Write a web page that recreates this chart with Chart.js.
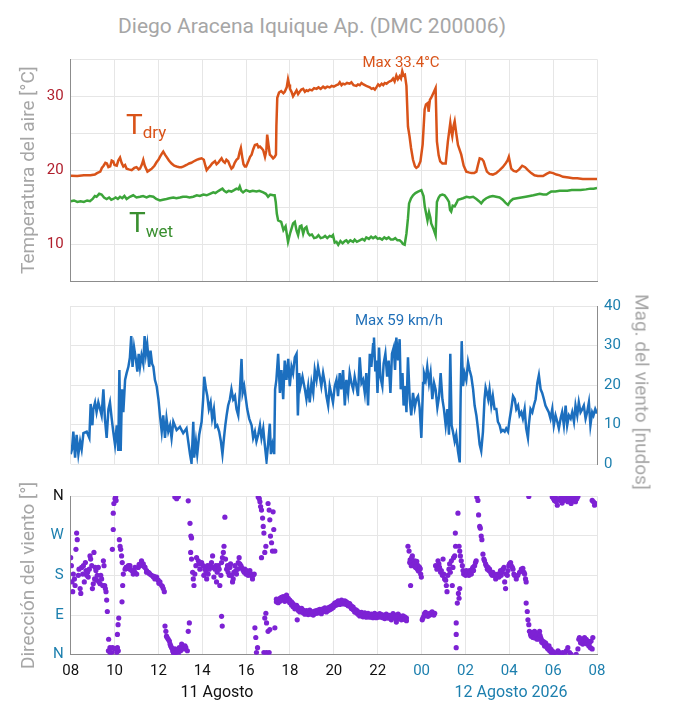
<!DOCTYPE html>
<html>
<head>
<meta charset="utf-8">
<script src="https://cdn.jsdelivr.net/npm/chart.js@4.4.1/dist/chart.umd.min.js"></script>
<style>
  html, body { margin: 0; padding: 0; background: #fff; }
  #page { position: relative; width: 673px; height: 722px; overflow: hidden; font-family: Roboto, "DejaVu Sans", sans-serif; }
  #page canvas { position: absolute; left: 0; }
  .lbl { position: absolute; white-space: nowrap; line-height: 1; }
  .mid { transform: translate(-50%, -50%); }
</style>
</head>
<body>
<div id="page">
  <div class="lbl mid" style="left:312px;top:26px;font-size:21px;color:#a6a6a6">Diego Aracena Iquique Ap. (DMC 200006)</div>
  <canvas id="tempChart" width="673" height="260" style="top:40px"></canvas>
  <canvas id="windChart" width="673" height="190" style="top:290px"></canvas>
  <canvas id="dirChart" width="673" height="242" style="top:480px"></canvas>
  <div class="lbl mid" style="left:401px;top:62px;font-size:15px;color:#d95319">Max 33.4°C</div>
  <div class="lbl" style="left:126px;top:111px;font-size:28px;color:#d95319">T<span style="font-size:17px;position:relative;top:4px">dry</span></div>
  <div class="lbl" style="left:129px;top:209px;font-size:28px;color:#3a8f30">T<span style="font-size:17px;position:relative;top:5px">wet</span></div>
  <div class="lbl mid" style="left:399px;top:320px;font-size:15px;color:#1f6fb8">Max 59 km/h</div>
  <div class="lbl" style="left:642px;top:392px;font-size:19px;color:#a6a6a6;transform:translate(-50%,-50%) rotate(90deg)">Mag. del viento [nudos]</div>
  <div class="lbl mid" style="left:217px;top:692px;font-size:16px;color:#111">11 Agosto</div>
  <div class="lbl mid" style="left:511px;top:692px;font-size:16px;color:#1c7fae">12 Agosto 2026</div>
</div>
<script>
// hours since 08:00 on 11 Aug; dry and wet bulb temperature [°C]
const tdryHours = [
  0, 0.3, 0.6, 0.9, 1.1, 1.2, 1.35, 1.42, 1.5, 1.58,
  1.65, 1.72, 1.8, 1.87, 1.94, 2.0, 2.1, 2.17, 2.25, 2.32,
  2.4, 2.48, 2.55, 2.65, 2.78, 2.9, 3.0, 3.1, 3.16, 3.25,
  3.31, 3.38, 3.5, 3.6, 3.7, 3.82, 3.92, 4.0, 4.07, 4.15,
  4.22, 4.3, 4.37, 4.48, 4.6, 4.72, 4.83, 4.95, 5.05, 5.15,
  5.28, 5.4, 5.5, 5.62, 5.74, 5.85, 5.97, 6.07, 6.14, 6.2,
  6.28, 6.35, 6.45, 6.58, 6.65, 6.73, 6.8, 6.88, 6.95, 7.03,
  7.1, 7.18, 7.25, 7.33, 7.4, 7.48, 7.56, 7.64, 7.7, 7.76,
  7.82, 7.88, 7.94, 8.0, 8.1, 8.18, 8.25, 8.32, 8.4, 8.5,
  8.56, 8.63, 8.7, 8.78, 8.86, 8.92, 8.96, 9.02, 9.08, 9.15,
  9.23, 9.3, 9.36, 9.38, 9.42, 9.5, 9.6, 9.7, 9.76, 9.85,
  9.91, 9.96, 10.0, 10.07, 10.14, 10.22, 10.3, 10.37, 10.44, 10.52,
  10.6, 10.68, 10.75, 10.82, 10.9, 11.0, 11.1, 11.21, 11.3, 11.4,
  11.51, 11.6, 11.7, 11.81, 11.9, 12.0, 12.12, 12.2, 12.27, 12.35,
  12.42, 12.5, 12.6, 12.72, 12.8, 12.9, 13.03, 13.1, 13.18, 13.26,
  13.35, 13.48, 13.56, 13.64, 13.72, 13.8, 13.87, 13.94, 14.02, 14.09,
  14.18, 14.25, 14.32, 14.4, 14.48, 14.55, 14.62, 14.7, 14.77, 14.85,
  14.92, 15.0, 15.06, 15.12, 15.18, 15.24, 15.31, 15.38, 15.45, 15.52,
  15.61, 15.7, 15.76, 15.85, 15.95, 16.05, 16.14, 16.2, 16.29, 16.32,
  16.38, 16.44, 16.55, 16.64, 16.7, 16.78, 16.85, 16.95, 17.1, 17.2,
  17.31, 17.36, 17.4, 17.46, 17.51, 17.58, 17.66, 17.81, 17.92, 18.04,
  18.15, 18.27, 18.4, 18.5, 18.58, 18.65, 18.75, 18.83, 18.9, 18.98,
  19.1, 19.25, 19.4, 19.56, 19.7, 19.83, 19.92, 19.98, 20.04, 20.09,
  20.2, 20.32, 20.45, 20.59, 20.72, 20.85, 21.0, 21.15, 21.3, 21.54,
  21.7, 21.84, 22.0, 22.15, 22.3, 22.45, 22.7, 22.9, 23.1, 23.35,
  23.6, 24
];
const tdryValues = [
  19.25, 19.2, 19.3, 19.3, 19.4, 19.6, 19.8, 20.3, 20.6, 21.0,
  20.9, 20.4, 20.5, 21.3, 21.2, 20.7, 20.6, 21.3, 21.7, 21.0,
  20.5, 20.7, 20.2, 20.1, 20.0, 20.3, 20.4, 20.1, 20.2, 20.8,
  21.4, 20.6, 19.8, 20.0, 20.2, 20.6, 21.1, 21.4, 21.8, 22.2,
  22.5, 22.1, 21.8, 21.3, 20.9, 20.6, 20.5, 20.4, 20.4, 20.5,
  20.7, 20.9, 21.0, 21.2, 21.4, 21.5, 21.6, 21.4, 20.6, 20.0,
  20.3, 20.5, 20.9, 21.2, 20.8, 21.0, 21.3, 21.6, 21.2, 21.0,
  21.4, 21.2, 20.7, 20.2, 20.4, 21.0, 21.4, 21.6, 22.4, 23.0,
  21.8, 20.8, 20.5, 20.5, 21.2, 21.8, 22.1, 22.8, 23.4, 23.5,
  23.1, 23.2, 23.0, 22.7, 21.8, 22.6, 24.8, 23.4, 22.1, 21.9,
  21.6, 21.8, 22.1, 26.0, 29.8, 30.5, 30.7, 30.4, 30.6, 31.2,
  32.3, 31.6, 31.0, 30.6, 30.0, 30.4, 30.8, 30.3, 30.6, 30.9,
  31.0, 30.6, 30.8, 30.7, 30.9, 30.8, 31.1, 31.0, 31.2, 31.0,
  31.3, 31.1, 31.3, 31.2, 31.4, 31.3, 31.5, 31.6, 31.9, 31.5,
  31.7, 31.6, 31.8, 31.7, 31.9, 31.5, 31.4, 31.6, 31.5, 31.8,
  31.6, 31.4, 31.3, 31.2, 31.0, 31.1, 30.9, 31.2, 31.6, 31.4,
  31.7, 31.5, 31.8, 31.7, 31.9, 32.0, 32.1, 32.4, 32.0, 32.8,
  32.3, 32.7, 32.4, 33.4, 32.8, 32.9, 31.4, 25.9, 24.6, 23.0,
  21.4, 20.5, 20.3, 20.5, 21.2, 23.5, 28.2, 28.9, 29.1, 27.9,
  29.5, 29.8, 30.5, 31.1, 23.9, 22.0, 21.2, 20.9, 20.9, 23.9,
  26.4, 25.2, 24.6, 26.0, 26.6, 25.0, 23.4, 22.1, 20.6, 19.8,
  19.7, 19.6, 19.6, 19.8, 20.8, 21.6, 21.5, 21.2, 20.5, 19.8,
  19.5, 19.4, 19.6, 20.0, 20.4, 20.9, 21.3, 21.8, 20.9, 20.2,
  19.9, 19.8, 20.1, 20.6, 20.4, 20.0, 19.6, 19.3, 19.2, 19.2,
  19.5, 19.7, 19.6, 19.4, 19.3, 19.1, 19.0, 18.9, 18.9, 18.8,
  18.8, 18.8
];
const twetHours = [
  0, 0.15, 0.3, 0.45, 0.6, 0.75, 0.88, 1.0, 1.1, 1.18,
  1.3, 1.41, 1.52, 1.64, 1.75, 1.85, 1.94, 2.05, 2.15, 2.25,
  2.35, 2.45, 2.55, 2.7, 2.85, 3.0, 3.16, 3.3, 3.46, 3.6,
  3.77, 3.9, 4.07, 4.2, 4.37, 4.5, 4.68, 4.82, 4.98, 5.12,
  5.28, 5.42, 5.59, 5.75, 5.89, 6.05, 6.2, 6.35, 6.5, 6.6,
  6.7, 6.8, 6.92, 7.0, 7.1, 7.2, 7.33, 7.45, 7.56, 7.65,
  7.71, 7.78, 7.86, 8.0, 8.17, 8.3, 8.47, 8.6, 8.78, 8.9,
  9.0, 9.1, 9.23, 9.3, 9.35, 9.4, 9.46, 9.6, 9.7, 9.8,
  9.91, 10.0, 10.06, 10.14, 10.22, 10.3, 10.37, 10.45, 10.52, 10.6,
  10.67, 10.75, 10.82, 10.9, 11.0, 11.1, 11.21, 11.3, 11.4, 11.51,
  11.6, 11.7, 11.81, 11.9, 11.96, 12.04, 12.12, 12.2, 12.3, 12.4,
  12.5, 12.57, 12.65, 12.75, 12.88, 12.95, 13.05, 13.18, 13.3, 13.4,
  13.48, 13.6, 13.7, 13.79, 13.9, 14.0, 14.09, 14.2, 14.3, 14.4,
  14.5, 14.6, 14.7, 14.8, 14.9, 15.0, 15.08, 15.15, 15.23, 15.31,
  15.38, 15.43, 15.52, 15.61, 15.72, 15.84, 15.99, 16.09, 16.15, 16.21,
  16.27, 16.34, 16.4, 16.44, 16.55, 16.64, 16.7, 16.78, 16.85, 16.95,
  17.05, 17.15, 17.25, 17.3, 17.35, 17.42, 17.51, 17.6, 17.66, 17.78,
  17.89, 18.05, 18.2, 18.35, 18.5, 18.62, 18.72, 18.82, 18.95, 19.1,
  19.25, 19.4, 19.56, 19.7, 19.82, 19.94, 20.05, 20.17, 20.35, 20.55,
  20.75, 20.93, 21.1, 21.25, 21.39, 21.55, 21.7, 21.8, 21.91, 22.1,
  22.3, 22.45, 22.65, 22.85, 23.05, 23.25, 23.5, 23.7, 23.85, 24
];
const twetValues = [
  15.8, 15.9, 15.7, 15.8, 15.7, 15.9, 15.8, 16.1, 16.5, 16.4,
  16.8, 16.7, 16.3, 16.1, 16.3, 16.0, 16.1, 16.3, 16.1, 16.4,
  16.2, 16.5, 16.1, 16.4, 16.6, 16.3, 16.4, 16.5, 16.3, 16.5,
  16.4, 16.1, 15.9, 16.0, 16.1, 16.2, 16.3, 16.2, 16.3, 16.4,
  16.4, 16.3, 16.4, 16.6, 16.5, 16.7, 16.6, 16.8, 17.0, 16.9,
  17.1, 17.3, 17.5, 17.2, 17.0, 17.2, 17.1, 17.3, 17.5, 17.4,
  17.8, 17.2, 17.0, 17.3, 17.1, 17.2, 17.1, 17.2, 17.0, 16.8,
  16.4, 16.7, 16.6, 16.6, 15.7, 14.1, 13.2, 13.0, 11.9, 12.4,
  10.3, 11.4, 12.0, 12.8, 13.0, 11.8, 11.2, 12.4, 12.5, 11.4,
  12.1, 12.3, 11.5, 11.2, 11.3, 10.8, 10.9, 11.2, 10.8, 10.9,
  11.1, 10.8, 11.1, 11.0, 11.2, 10.2, 10.3, 9.9, 10.4, 10.1,
  10.4, 10.5, 10.2, 10.5, 10.3, 10.6, 10.3, 10.5, 10.7, 10.5,
  10.9, 10.7, 11.0, 10.8, 11.0, 10.7, 10.8, 10.6, 10.9, 10.7,
  10.9, 10.6, 10.6, 10.8, 10.5, 10.5, 10.3, 10.0, 9.9, 11.4,
  13.5, 15.5, 16.2, 16.6, 16.9, 17.1, 17.3, 16.5, 15.0, 14.1,
  13.2, 14.3, 13.6, 12.8, 12.0, 11.2, 15.7, 16.3, 16.6, 16.7,
  16.6, 16.2, 15.7, 14.6, 14.4, 15.2, 15.1, 15.6, 16.0, 16.1,
  16.2, 16.4, 16.3, 16.4, 16.1, 15.8, 15.5, 15.9, 16.2, 16.4,
  16.5, 16.4, 16.3, 16.0, 15.6, 15.3, 15.8, 16.1, 16.2, 16.3,
  16.4, 16.5, 16.6, 16.7, 16.8, 16.7, 16.7, 16.9, 17.1, 17.1,
  17.2, 17.2, 17.2, 17.3, 17.3, 17.3, 17.4, 17.5, 17.5, 17.6
];

// wind speed [knots]
const windHours = [
  0, 0.06, 0.12, 0.20, 0.27, 0.35, 0.43, 0.50, 0.58, 0.73,
  0.85, 0.91, 0.99, 1.03, 1.11, 1.18, 1.26, 1.34, 1.41, 1.49,
  1.56, 1.64, 1.72, 1.79, 1.87, 1.94, 2.02, 2.10, 2.17, 2.22,
  2.28, 2.34, 2.40, 2.48, 2.55, 2.63, 2.70, 2.76, 2.82, 2.89,
  2.98, 3.04, 3.10, 3.16, 3.23, 3.31, 3.37, 3.43, 3.49, 3.58,
  3.64, 3.71, 3.77, 3.84, 3.92, 4.00, 4.07, 4.15, 4.22, 4.30,
  4.37, 4.45, 4.53, 4.60, 4.68, 4.83, 4.98, 5.13, 5.28, 5.36,
  5.44, 5.51, 5.59, 5.63, 5.71, 5.77, 5.86, 5.97, 6.04, 6.09,
  6.17, 6.23, 6.30, 6.38, 6.45, 6.53, 6.60, 6.68, 6.77, 6.85,
  6.92, 6.99, 7.05, 7.11, 7.18, 7.26, 7.33, 7.41, 7.49, 7.56,
  7.64, 7.71, 7.79, 7.84, 7.91, 7.99, 8.05, 8.14, 8.25, 8.32,
  8.40, 8.47, 8.55, 8.63, 8.70, 8.78, 8.85, 8.93, 9.00, 9.08,
  9.13, 9.20, 9.28, 9.32, 9.38, 9.46, 9.54, 9.61, 9.69, 9.76,
  9.84, 9.92, 9.99, 10.07, 10.14, 10.22, 10.30, 10.36, 10.42, 10.48,
  10.57, 10.68, 10.75, 10.83, 10.90, 10.98, 11.06, 11.13, 11.21, 11.28,
  11.36, 11.43, 11.51, 11.59, 11.66, 11.74, 11.81, 11.96, 12.04, 12.12,
  12.19, 12.27, 12.34, 12.42, 12.50, 12.57, 12.65, 12.72, 12.80, 12.88,
  12.95, 13.03, 13.10, 13.18, 13.26, 13.33, 13.41, 13.48, 13.56, 13.64,
  13.71, 13.79, 13.83, 13.89, 13.94, 13.99, 14.06, 14.12, 14.21, 14.27,
  14.35, 14.43, 14.50, 14.58, 14.65, 14.73, 14.79, 14.85, 14.93, 15.00,
  15.05, 15.13, 15.18, 15.25, 15.31, 15.38, 15.46, 15.53, 15.61, 15.69,
  15.76, 15.84, 15.91, 15.99, 16.07, 16.11, 16.19, 16.26, 16.34, 16.41,
  16.49, 16.57, 16.64, 16.72, 16.80, 16.87, 16.95, 17.02, 17.10, 17.18,
  17.25, 17.31, 17.37, 17.43, 17.51, 17.58, 17.66, 17.74, 17.78, 17.83,
  17.89, 17.96, 18.04, 18.12, 18.19, 18.27, 18.35, 18.42, 18.50, 18.57,
  18.65, 18.72, 18.80, 18.87, 18.92, 18.98, 19.04, 19.10, 19.18, 19.25,
  19.33, 19.41, 19.48, 19.56, 19.63, 19.71, 19.79, 19.86, 19.94, 20.02,
  20.09, 20.17, 20.25, 20.32, 20.40, 20.47, 20.55, 20.62, 20.70, 20.77,
  20.85, 20.89, 20.97, 21.05, 21.12, 21.20, 21.28, 21.35, 21.43, 21.50,
  21.58, 21.65, 21.73, 21.80, 21.88, 21.96, 22.03, 22.11, 22.19, 22.26,
  22.34, 22.41, 22.49, 22.57, 22.64, 22.72, 22.80, 22.87, 22.95, 23.02,
  23.10, 23.17, 23.25, 23.33, 23.40, 23.48, 23.55, 23.63, 23.70, 23.78,
  23.84, 23.92, 24.0
];
const windKnots = [
  2.5, 3.7, 8.2, 1.6, 7.4, 2.5, 5.7, 3.7, 7.8, 8.2,
  6.6, 15.2, 9.8, 13.9, 15.6, 13.1, 15.6, 13.9, 12.3, 18.9,
  11.5, 6.6, 13.9, 15.6, 11.5, 8.2, 4.9, 9.8, 3.3, 23.8,
  3.3, 18.9, 13.1, 21.3, 23.0, 24.6, 27.0, 32.4, 24.6, 29.5,
  26.2, 23.4, 27.9, 24.6, 27.5, 25.4, 32.4, 27.9, 30.3, 24.6,
  28.7, 25.4, 24.6, 21.3, 19.7, 16.4, 12.3, 8.2, 12.3, 6.6,
  11.5, 8.2, 9.8, 6.6, 10.7, 8.6, 9.4, 7.8, 9.0, 5.7,
  2.5, 0.2, 10.7, 1.6, 5.7, 2.5, 7.4, 10.7, 16.4, 22.1,
  18.9, 17.2, 13.9, 15.6, 11.5, 13.9, 9.4, 9.8, 8.2, 5.7,
  2.5, 6.6, 9.8, 12.3, 14.8, 16.4, 18.9, 16.4, 17.2, 13.9,
  12.3, 18.0, 26.6, 18.0, 19.7, 16.4, 13.9, 11.5, 9.8, 6.6,
  8.2, 5.7, 7.4, 9.8, 6.6, 9.0, 4.9, 0.8, 4.9, 10.2,
  2.5, 4.9, 2.5, 18.9, 21.3, 27.9, 18.0, 23.8, 16.4, 26.2,
  21.3, 26.6, 19.7, 24.6, 23.0, 27.0, 27.9, 12.3, 23.0, 19.7,
  22.1, 18.9, 16.4, 19.7, 15.6, 20.5, 18.0, 23.8, 21.3, 24.6,
  22.1, 19.7, 23.0, 20.5, 17.2, 14.8, 19.7, 15.6, 19.7, 21.3,
  17.2, 23.0, 18.9, 23.8, 14.8, 21.3, 18.0, 23.0, 20.5, 18.9,
  22.1, 19.7, 17.2, 27.0, 20.5, 21.3, 18.0, 23.0, 14.8, 27.9,
  24.6, 30.3, 32.0, 23.4, 26.2, 18.0, 29.5, 22.1, 19.7, 25.4,
  27.9, 22.1, 26.2, 18.0, 27.9, 29.5, 23.8, 32.0, 26.2, 31.6,
  18.9, 23.0, 14.8, 19.7, 13.1, 27.0, 16.4, 12.3, 18.0, 14.3,
  16.4, 17.2, 14.3, 6.6, 20.5, 23.0, 21.3, 24.6, 20.5, 23.0,
  16.4, 20.5, 18.9, 14.3, 17.2, 23.0, 16.4, 13.9, 9.8, 13.9,
  7.4, 27.9, 9.8, 8.2, 5.7, 7.4, 3.3, 0.4, 16.4, 31.1,
  19.7, 23.0, 21.3, 25.8, 23.8, 22.1, 18.9, 14.8, 12.3, 9.0,
  4.9, 3.3, 8.2, 16.4, 19.3, 18.0, 16.4, 18.9, 14.8, 17.2,
  13.9, 13.9, 10.7, 9.8, 8.2, 8.6, 8.2, 9.0, 8.2, 11.5,
  13.9, 17.2, 16.4, 13.9, 14.8, 12.3, 13.1, 11.5, 13.9, 9.0,
  6.6, 9.8, 13.9, 13.1, 14.8, 16.4, 20.5, 22.5, 18.9, 18.0,
  16.4, 14.8, 13.9, 13.1, 11.5, 13.9, 9.8, 12.3, 10.7, 9.0,
  11.5, 13.1, 9.8, 14.8, 9.8, 12.3, 11.5, 13.1, 10.7, 14.8,
  12.3, 15.6, 13.1, 13.9, 14.8, 11.5, 13.1, 15.6, 9.8, 13.1,
  12.3, 13.9, 12.8
];

// wind direction readings [degrees from north]
const dirHours = [
  0, 0.03, 0.06, 0.09, 0.12, 0.17, 0.20, 0.24, 0.27, 0.30, 0.35, 0.38, 0.43, 0.46, 0.50, 0.55, 0.58, 0.62, 0.67, 0.70, 0.73, 0.77, 0.80, 0.85, 0.88, 0.91, 0.96, 0.99, 1.03, 1.06, 1.09, 1.12, 1.15, 1.18, 1.21, 1.26, 1.29, 1.34, 1.37, 1.41, 1.46, 1.49, 1.52, 1.55, 1.58, 1.61, 1.64, 1.67,
  1.73, 1.79, 1.72, 1.87, 1.91, 1.94, 1.90, 1.94, 1.97, 2.02, 2.05, 2.07, 2.10, 2.13, 2.17, 2.13, 2.16, 2.19, 2.22, 2.25, 2.28, 2.32, 2.35, 2.34, 2.37, 2.40, 1.79, 2.02, 2.10,
  2.48, 2.52, 2.55, 2.63, 2.70, 2.70, 2.78, 2.85, 2.93, 2.93, 3.01, 3.08, 3.16, 3.23, 3.23, 3.31, 3.39, 3.46, 3.46, 3.54, 3.61, 3.69, 3.77, 3.84, 3.92, 3.99, 4.07, 4.15, 4.22, 4.27, 2.60, 2.88, 3.12, 3.35, 3.58, 3.80, 4.02, 4.18,
  4.30, 4.34, 4.37, 4.40, 4.45, 4.50, 4.53, 4.56, 4.60, 4.65, 4.68, 4.71, 4.75, 4.80, 4.83, 4.91, 4.95, 5.01, 5.06, 5.10, 5.16, 5.21, 5.25, 5.32, 5.36, 5.41, 4.75, 4.83, 4.91, 5.36, 5.44, 5.48, 5.51, 5.47,
  5.51, 5.56, 5.59, 5.62, 5.66, 5.71, 5.74, 5.82, 5.86, 5.89, 5.97, 6.04, 6.07, 6.12, 6.17, 6.20, 6.24, 6.27, 6.32, 6.35, 6.42, 6.47, 6.50, 6.53, 6.58, 6.62, 6.65, 6.68, 6.73, 6.77, 6.80, 6.85, 6.88, 6.92, 6.96, 6.99, 7.03, 7.06, 7.11, 7.15, 7.18, 7.23, 7.26, 7.29, 7.33, 7.38, 7.41, 7.44, 7.49, 7.53, 7.56, 7.61, 7.64, 7.68, 7.71, 7.76, 7.79, 7.84, 7.87, 7.91, 7.94, 7.99, 8.02, 8.05, 8.09, 8.14, 8.17, 8.22, 8.25, 8.29, 8.32, 8.37, 6.88, 6.91,
  8.40, 8.44, 8.47, 8.52, 8.55, 8.60, 8.63, 8.66, 8.70, 8.75, 8.78, 8.81, 8.85, 8.90, 8.70, 9.00, 9.05, 9.08, 9.11, 9.16, 9.23, 9.26, 9.20, 9.31, 8.85, 8.90, 8.93, 9.00, 9.08, 8.81, 8.93, 9.05, 9.31,
  10.33, 14.85,
  15.38, 15.43, 15.46, 15.50, 15.53, 15.58, 15.61, 15.69, 15.73, 15.76, 15.81, 15.84, 15.88, 15.91, 15.96, 15.99, 15.48, 15.55, 15.65, 15.70, 15.78, 15.86, 15.94,
  16.03, 16.10, 16.14, 16.22, 16.29, 16.37, 16.44, 16.52, 16.60, 16.06, 16.18, 16.33, 16.48, 16.56,
  16.64, 16.70, 16.75, 16.79, 16.82, 16.87, 16.90, 16.95, 16.98, 17.01, 17.05, 17.10, 17.13, 17.16, 17.20, 17.25, 17.28, 17.31, 17.36, 17.40, 17.43, 17.46, 17.51, 17.54, 17.55, 17.58, 17.58, 17.58, 17.63, 17.66, 17.68, 17.71, 17.74, 17.71, 17.74, 17.77,
  17.81, 17.86, 17.89, 17.92, 17.96, 18.01, 18.04, 18.09, 18.12, 18.16, 18.19, 18.22, 18.27, 18.31, 18.34, 18.37, 18.42, 18.46, 18.49, 18.52, 18.57, 18.60, 18.65, 18.68, 18.72, 18.75, 18.80, 18.84, 18.87, 18.92, 18.95,
  19.00, 19.03, 19.07, 19.10, 19.15, 19.18, 19.22, 19.25, 19.30, 19.33, 19.38, 19.41, 19.45, 19.48, 19.53, 19.56, 19.60, 19.63, 19.68, 19.71, 19.76, 19.79, 19.83, 19.86, 19.91, 19.94, 19.98, 20.01, 20.06, 20.09, 20.14, 20.17, 20.21, 20.24, 20.32, 20.39, 20.47, 20.55, 20.59, 20.62, 20.67, 20.70, 20.74, 20.77,
  20.77, 20.82, 20.85, 20.89, 20.92, 20.97, 21.00, 21.05, 21.08, 21.12, 21.15, 21.20, 21.23, 21.27, 21.31, 21.35, 21.38, 21.43, 21.46, 21.50, 21.53, 21.58, 21.61, 21.65, 21.68, 21.73, 21.76, 21.81, 21.84, 21.88, 21.91, 21.96, 21.99, 22.06, 22.14, 22.22, 22.29, 22.37, 22.44, 22.52, 22.60, 22.67, 22.75, 22.82, 23.05, 21.02, 21.10, 21.17, 21.25, 21.33, 21.40, 21.48, 21.56, 21.63, 21.70,
  23.13, 23.17, 23.20, 23.25, 23.28, 23.32, 23.35, 23.40, 23.43, 23.48, 23.51, 23.55, 23.58, 23.63, 23.66, 23.70, 23.73, 23.78, 23.81,
  20.89, 21.96, 22.02, 22.06, 22.11, 22.14, 22.19, 22.23, 22.29, 22.34, 22.37, 22.41, 22.44, 22.49, 22.53, 22.60, 22.67, 22.72, 22.78, 22.82, 22.87, 22.93, 22.97, 23.02, 23.08, 23.13, 23.78, 23.84, 23.89, 23.93
];
const dirDegrees = [
  220, 202, 165, 143, 183, 172, 157, 239, 276, 261, 180, 194, 150, 139, 198, 183, 202, 165, 209, 191, 180, 187, 176, 194, 224, 217, 202, 150, 161, 232, 172, 198, 191, 169, 180, 198, 165, 161, 180, 172, 157, 213, 202, 157, 150, 143, 124, 98,
  35, 16, 9, 5, 16, 284, 239, 321, 343, 354, 358, 350, 13, 16, 9, 46, 68, 83, 261, 246, 239, 224, 209, 120, 157, 183, 5, 13, 5,
  194, 198, 198, 202, 194, 202, 191, 183, 187, 198, 183, 198, 202, 209, 213, 206, 198, 191, 187, 187, 183, 180, 176, 172, 176, 169, 165, 157, 150, 143, 196, 190, 205, 200, 185, 178, 162, 155,
  65, 53, 42, 39, 35, 31, 24, 20, 16, 9, 5, 1, 13, 5, 9, 1, 16, 9, 24, 16, 13, 20, 16, 9, 53, 72, 358, 354, 359, 349, 298, 269, 265, 232,
  217, 187, 172, 157, 183, 202, 220, 213, 206, 194, 209, 202, 180, 194, 187, 172, 202, 183, 194, 202, 209, 224, 198, 176, 194, 202, 165, 187, 202, 194, 157, 180, 209, 220, 232, 246, 312, 217, 194, 202, 187, 180, 198, 206, 180, 165, 172, 187, 202, 191, 183, 194, 209, 220, 206, 202, 198, 194, 191, 187, 194, 183, 191, 187, 180, 187, 191, 180, 183, 172, 180, 183, 87, 65,
  61, 39, 5, 16, 358, 354, 347, 336, 328, 310, 291, 276, 232, 246, 220, 343, 328, 306, 269, 254, 324, 284, 235, 235, 83, 94, 72, 53, 57, 5, 5, 5, 61,
  79, 74,
  246, 235, 209, 157, 202, 224, 209, 213, 198, 206, 194, 202, 191, 198, 183, 176, 215, 220, 205, 200, 212, 190, 195,
  79, 87, 94, 91, 87, 94, 91, 94, 94, 83, 96, 89, 97, 90,
  202, 194, 213, 206, 198, 187, 191, 180, 217, 183, 172, 169, 157, 143, 180, 194, 206, 187, 213, 157, 198, 220, 224, 276, 246, 72, 46, 16, 117, 321, 139, 128, 150, 246, 235, 224,
  213, 202, 191, 183, 187, 180, 191, 183, 187, 180, 191, 187, 183, 194, 198, 191, 202, 209, 213, 358, 350, 317, 291, 287, 269, 261, 228, 217, 213, 206, 202,
  194, 198, 191, 194, 187, 183, 180, 187, 183, 180, 172, 176, 180, 183, 176, 183, 191, 180, 187, 194, 198, 165, 150, 183, 180, 191, 202, 206, 209, 202, 198, 194, 183, 180, 172, 180, 187, 194, 191, 196, 187, 183, 172, 165,
  117, 98, 79, 68, 53, 46, 42, 50, 39, 42, 53, 46, 42, 35, 42, 46, 53, 39, 35, 31, 27, 24, 20, 27, 24, 16, 13, 20, 9, 13, 5, 9, 1, 5, 1, 9, 5, 1, 5, 1, 9, 16, 5, 1, 1, 48, 50, 38, 45, 36, 44, 28, 30, 22, 18,
  13, 35, 39, 27, 31, 35, 24, 31, 39, 27, 35, 24, 31, 20, 27, 16, 31, 13, 39,
  359, 358, 354, 350, 356, 347, 339, 352, 354, 349, 358, 344, 354, 350, 358, 352, 347, 356, 350, 343, 354, 358, 349, 347, 354, 359, 350, 347, 339, 343
];
// dense steady-easterly stretch: two readings per time (upper and lower edge of the band)
const dirBandHours = [
  9.38, 9.46, 9.54, 9.61, 9.69, 9.76, 9.84, 9.92, 9.99, 10.07,
  10.14, 10.22, 10.30, 10.38, 10.45, 10.53, 10.60, 10.68, 10.75, 10.83,
  10.90, 10.98, 11.06, 11.13, 11.21, 11.28, 11.36, 11.43, 11.51, 11.59,
  11.66, 11.74, 11.81, 11.89, 11.97, 12.04, 12.12, 12.20, 12.27, 12.35,
  12.42, 12.50, 12.57, 12.65, 12.72, 12.80, 12.88, 12.95, 13.03, 13.10,
  13.18, 13.26, 13.33, 13.41, 13.48, 13.56, 13.64, 13.71, 13.79, 13.86,
  13.94, 14.02, 14.09, 14.17, 14.24, 14.32, 14.39, 14.47, 14.55, 14.62,
  14.70, 14.77, 14.85, 14.93, 15.00, 15.08, 15.15, 15.23, 15.31
];
const dirBandA = [
  120, 125, 128, 124, 132, 127, 135, 122, 118, 113,
  116, 110, 106, 100, 103, 99, 95, 98, 94, 97,
  95, 92, 96, 99, 94, 101, 97, 99, 104, 100,
  103, 106, 102, 110, 113, 111, 119, 116, 120, 118,
  121, 116, 114, 117, 110, 105, 102, 97, 95, 92,
  94, 90, 92, 89, 91, 88, 91, 86, 90, 88,
  84, 91, 87, 85, 90, 88, 86, 83, 89, 85,
  87, 84, 80, 86, 82, 85, 88, 80, 83
];
const dirBandB = [
  126, 118, 121, 130, 125, 121, 126, 128, 124, 120,
  109, 104, 112, 107, 97, 105, 101, 92, 100, 91,
  101, 98, 90, 93, 100, 95, 103, 93, 98, 106,
  97, 100, 108, 104, 107, 117, 113, 122, 114, 124,
  115, 122, 120, 111, 116, 111, 108, 103, 101, 98,
  88, 96, 86, 95, 85, 94, 85, 92, 84, 94,
  90, 85, 93, 91, 84, 82, 92, 89, 84, 79,
  93, 90, 88, 92, 88, 79, 82, 86, 77
];

const hourTicks = [0, 2, 4, 6, 8, 10, 12, 14, 16, 18, 20, 22, 24];
const hourLabels = ['08', '10', '12', '14', '16', '18', '20', '22', '00', '02', '04', '06', '08'];
const dirTickValues = [0, 90, 180, 270, 360];
const dirTickLabels = ['N', 'E', 'S', 'W', 'N'];

const GRID = '#e6e6e6';
const AXIS = '#8c8c8c';
const TEAL = '#1c7fae';
const PURPLE = '#7d22d4';
const PLOT_LEFT = 70.7;
const PLOT_RIGHT_PAD = 76;

Chart.defaults.font.family = 'Roboto, "DejaVu Sans", sans-serif';
Chart.defaults.animation = false;

const pairs = (xs, ys) => xs.map((x, i) => ({ x: x, y: ys[i] }));

const xScale = (extra) => Object.assign({
  type: 'linear', min: 0, max: 24,
  ticks: { stepSize: 2, display: false },
  grid: { color: GRID, drawTicks: false },
  border: { color: AXIS }
}, extra);

const noPlugins = { legend: { display: false }, tooltip: { enabled: false } };
const sideTitle = (text) => ({ display: true, text: text, color: '#a6a6a6', font: { size: 19 }, padding: { top: 18, bottom: 0 } });

// Temperature panel
new Chart(document.getElementById('tempChart'), {
  type: 'line',
  data: {
    datasets: [
      { data: pairs(tdryHours, tdryValues), borderColor: '#d95319', borderWidth: 2.5, pointRadius: 0, tension: 0 },
      { data: pairs(twetHours, twetValues), borderColor: '#3ca53a', borderWidth: 2.5, pointRadius: 0, tension: 0 }
    ]
  },
  options: {
    responsive: false,
    layout: { padding: { top: 19.3, right: PLOT_RIGHT_PAD, bottom: 0, left: 0 } },
    plugins: noPlugins,
    scales: {
      x: xScale({ afterFit: s => { s.height = 19; } }),
      y: {
        min: 5, max: 35,
        ticks: { stepSize: 5, padding: 7, color: '#b01e2c', font: { size: 15 },
          callback: v => (v % 10 === 0 ? v : '') },
        grid: { color: GRID, drawTicks: false },
        border: { color: AXIS },
        title: sideTitle('Temperatura del aire [°C]'),
        afterFit: s => { s.width = PLOT_LEFT; }
      }
    }
  }
});

// Wind speed panel
new Chart(document.getElementById('windChart'), {
  type: 'line',
  data: {
    datasets: [
      { data: pairs(windHours, windKnots), borderColor: '#1c6fbf', borderWidth: 2.5, pointRadius: 0, tension: 0 }
    ]
  },
  options: {
    responsive: false,
    layout: { padding: { top: 12, right: 0, bottom: 0, left: PLOT_LEFT } },
    plugins: noPlugins,
    scales: {
      x: xScale({ border: { display: false }, afterFit: s => { s.height = 15.3; } }),
      y: {
        position: 'right', min: 0, max: 40,
        ticks: { stepSize: 10, padding: 7, color: TEAL, font: { size: 15 } },
        grid: { color: GRID, drawTicks: false },
        border: { color: AXIS },
        afterFit: s => { s.width = PLOT_RIGHT_PAD; }
      }
    }
  }
});

// Wind direction panel
new Chart(document.getElementById('dirChart'), {
  type: 'scatter',
  data: {
    datasets: [
      { data: pairs(dirHours, dirDegrees), backgroundColor: PURPLE, borderWidth: 0, pointRadius: 2.6 },
      { data: pairs(dirBandHours, dirBandA), backgroundColor: PURPLE, borderWidth: 0, pointRadius: 2.6 },
      { data: pairs(dirBandHours, dirBandB), backgroundColor: PURPLE, borderWidth: 0, pointRadius: 2.6 }
    ]
  },
  options: {
    responsive: false,
    layout: { padding: { top: 13, right: PLOT_RIGHT_PAD, bottom: 0, left: 0 } },
    plugins: noPlugins,
    scales: {
      x: xScale({
        ticks: {
          stepSize: 2, display: true, padding: 8, font: { size: 15 },
          color: c => (c.tick && c.tick.value >= 16 ? TEAL : '#111'),
          callback: v => hourLabels[hourTicks.indexOf(v)]
        },
        afterFit: s => { s.height = 67.3; }
      }),
      y: {
        min: 0, max: 360,
        ticks: { stepSize: 90, padding: 7, font: { size: 15 },
          color: c => (c.tick && c.tick.value === 360 ? '#111' : TEAL),
          callback: v => dirTickLabels[dirTickValues.indexOf(v)] },
        grid: { color: GRID, drawTicks: false },
        border: { color: AXIS },
        title: sideTitle('Dirección del viento [°]'),
        afterFit: s => { s.width = PLOT_LEFT; }
      }
    }
  }
});
</script>
</body>
</html>
